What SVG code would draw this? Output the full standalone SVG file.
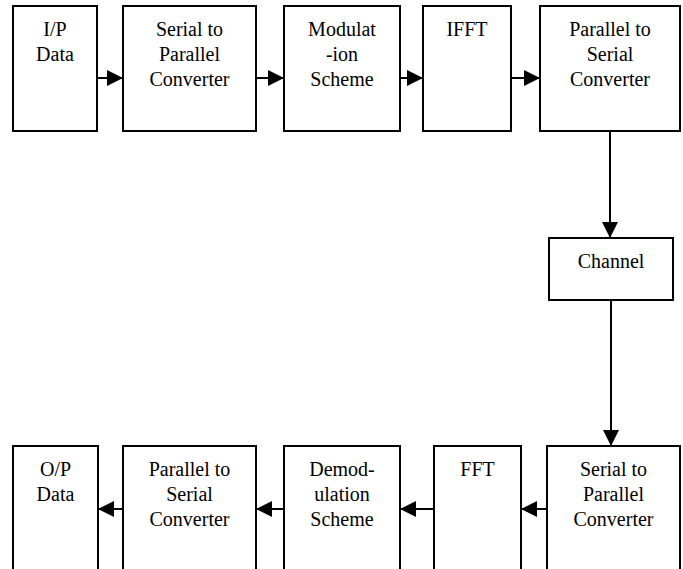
<svg xmlns="http://www.w3.org/2000/svg" width="683" height="569" viewBox="0 0 683 569">
<defs>
<style>
.box{fill:#fff;stroke:#000;stroke-width:2}
.t{font-family:'Liberation Serif','Times New Roman',Times,'DejaVu Serif',serif;font-size:20px;fill:#000;text-anchor:middle}
.c{stroke:#000;stroke-width:2;fill:none}
</style>
<marker id="ah" markerWidth="16" markerHeight="16" viewBox="0 0 16 16" refX="16" refY="8" orient="auto" markerUnits="userSpaceOnUse">
<path d="M0,0 L16,8 L0,16 Z" fill="#000"/>
</marker>
</defs>
<rect width="683" height="569" fill="#fff"/>
<g id="connectors">
<line class="c" x1="97" y1="78" x2="123" y2="78" marker-end="url(#ah)"/>
<line class="c" x1="256" y1="78" x2="284" y2="78" marker-end="url(#ah)"/>
<line class="c" x1="400" y1="78" x2="423" y2="78" marker-end="url(#ah)"/>
<line class="c" x1="511" y1="78" x2="540" y2="78" marker-end="url(#ah)"/>
<line class="c" x1="610" y1="131" x2="610" y2="238" marker-end="url(#ah)"/>
<line class="c" x1="611" y1="300" x2="611" y2="446" marker-end="url(#ah)"/>
<line class="c" x1="547" y1="509" x2="521" y2="509" marker-end="url(#ah)"/>
<line class="c" x1="434" y1="509" x2="400" y2="509" marker-end="url(#ah)"/>
<line class="c" x1="284" y1="509" x2="256" y2="509" marker-end="url(#ah)"/>
<line class="c" x1="123" y1="509" x2="98" y2="509" marker-end="url(#ah)"/>
</g>
<g id="ip">
<rect class="box" x="13" y="6" width="84" height="125"/>
<text class="t" x="55" y="36">I/P</text>
<text class="t" x="55" y="61">Data</text>
</g>
<g id="sp1">
<rect class="box" x="123" y="6" width="133" height="125"/>
<text class="t" x="189.5" y="36">Serial to</text>
<text class="t" x="189.5" y="61">Parallel</text>
<text class="t" x="189.5" y="86">Converter</text>
</g>
<g id="mod">
<rect class="box" x="284" y="6" width="116" height="125"/>
<text class="t" x="342" y="36">Modulat</text>
<text class="t" x="342" y="61">-ion</text>
<text class="t" x="342" y="86">Scheme</text>
</g>
<g id="ifft">
<rect class="box" x="423" y="6" width="88" height="125"/>
<text class="t" x="467" y="36">IFFT</text>
</g>
<g id="ps1">
<rect class="box" x="540" y="6" width="140" height="125"/>
<text class="t" x="610" y="36">Parallel to</text>
<text class="t" x="610" y="61">Serial</text>
<text class="t" x="610" y="86">Converter</text>
</g>
<g id="channel">
<rect class="box" x="549" y="238" width="124" height="62"/>
<text class="t" x="611" y="268">Channel</text>
</g>
<g id="sp2">
<rect class="box" x="547" y="446" width="133" height="130"/>
<text class="t" x="613.5" y="476">Serial to</text>
<text class="t" x="613.5" y="501">Parallel</text>
<text class="t" x="613.5" y="526">Converter</text>
</g>
<g id="fft">
<rect class="box" x="434" y="446" width="87" height="130"/>
<text class="t" x="477.5" y="476">FFT</text>
</g>
<g id="demod">
<rect class="box" x="284" y="446" width="116" height="130"/>
<text class="t" x="342" y="476">Demod-</text>
<text class="t" x="342" y="501">ulation</text>
<text class="t" x="342" y="526">Scheme</text>
</g>
<g id="ps2">
<rect class="box" x="123" y="446" width="133" height="130"/>
<text class="t" x="189.5" y="476">Parallel to</text>
<text class="t" x="189.5" y="501">Serial</text>
<text class="t" x="189.5" y="526">Converter</text>
</g>
<g id="op">
<rect class="box" x="13" y="446" width="85" height="130"/>
<text class="t" x="55.5" y="476">O/P</text>
<text class="t" x="55.5" y="501">Data</text>
</g>
</svg>
